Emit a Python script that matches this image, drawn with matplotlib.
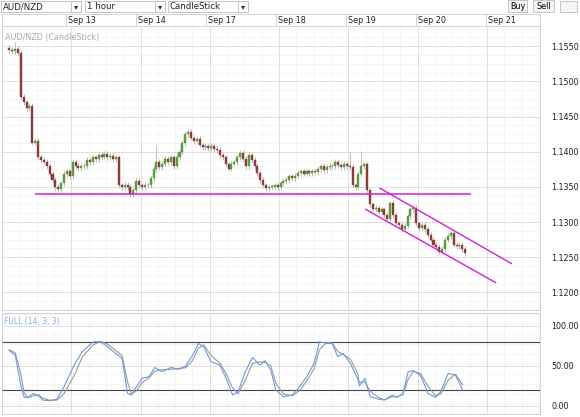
import matplotlib
matplotlib.use("Agg")
import matplotlib.pyplot as plt
from matplotlib.patches import Rectangle, FancyBboxPatch
import numpy as np

# ── Data ──────────────────────────────────────────────────────────────────────
closes = [
    1.1545, 1.1543, 1.1546, 1.1540, 1.1478, 1.1470, 1.1462, 1.1465, 1.1413, 1.1415,
    1.1392, 1.1388, 1.1386, 1.1380, 1.1368, 1.1360, 1.1350, 1.1347, 1.1355, 1.1368,
    1.1372, 1.1365, 1.1385, 1.1380, 1.1377, 1.1380, 1.1379, 1.1388, 1.1385, 1.1392,
    1.1390, 1.1395, 1.1393, 1.1397, 1.1392, 1.1394, 1.1390, 1.1392, 1.1352, 1.1350,
    1.1353, 1.1350, 1.1340, 1.1345, 1.1358, 1.1352, 1.1350, 1.1353, 1.1352, 1.1362,
    1.1375, 1.1385, 1.1378, 1.1383, 1.1390, 1.1385, 1.1392, 1.1380, 1.1392, 1.1400,
    1.1412, 1.1425, 1.1428, 1.1420, 1.1415, 1.1418, 1.1410, 1.1406, 1.1408, 1.1405,
    1.1408, 1.1404, 1.1402, 1.1395, 1.1392, 1.1382, 1.1376, 1.1383, 1.1385, 1.1392,
    1.1398, 1.1390, 1.1380, 1.1395, 1.1388, 1.1380, 1.1370, 1.1360, 1.1352, 1.1348,
    1.1350, 1.1350, 1.1352, 1.1350, 1.1355, 1.1358, 1.1360, 1.1365, 1.1362, 1.1366,
    1.1370, 1.1372, 1.1369, 1.1372, 1.1370, 1.1372, 1.1371, 1.1375, 1.1380, 1.1374,
    1.1378, 1.1380, 1.1379, 1.1385, 1.1381, 1.1378, 1.1382, 1.1380, 1.1378, 1.1352,
    1.1350, 1.1368, 1.1380, 1.1382, 1.1345, 1.1325, 1.1318, 1.1320, 1.1315, 1.1318,
    1.1310, 1.1305, 1.1327, 1.1310, 1.1298, 1.1296, 1.1290, 1.1295, 1.1308, 1.1318,
    1.1320, 1.1298, 1.1292, 1.1296, 1.1290, 1.1282, 1.1275, 1.1268, 1.1265, 1.1258,
    1.1262, 1.1275, 1.1280, 1.1284, 1.1268, 1.1266, 1.1268, 1.1262, 1.1256,
]
first_open = 1.1548
# a few long upper wicks (candle index -> high)
spike_highs = {2: 1.1556, 51: 1.1410, 118: 1.1400, 122: 1.1401, 132: 1.1330}

day_labels = ["Sep 13", "Sep 14", "Sep 17", "Sep 18", "Sep 19", "Sep 20", "Sep 21"]
day_starts = [21.5, 45.5, 69.5, 93.5, 117.5, 141.5, 165.5]

support_level = 1.1340
support_span = [9, 160]
channel_upper = ([128.5, 174], [1.1348, 1.1241])
channel_lower = ([123.5, 168.5], [1.1318, 1.1214])

osc_idx = [0, 2.1, 4.0, 5.2, 6.5, 8.4, 10.3, 11.5, 14.0, 16.5, 19.0, 22.8, 25.3, 29.1,
           31.6, 34.1, 36.6, 39.1, 41.0, 42.3, 44.1, 46.0, 48.5, 50.4, 52.9, 56.1, 58.6,
           61.1, 63.6, 65.5, 67.4, 69.9, 73.0, 74.9, 77.4, 79.3, 81.8, 84.3, 86.8, 88.7,
           90.6, 92.4, 95.0, 98.1, 100.6, 103.1, 105.6, 107.5, 110.0, 111.9, 113.8,
           115.7, 118.2, 120.7, 121.3, 123.2, 125.1, 128.2, 130.1, 132.6, 134.5, 136.4,
           138.2, 140.1, 142.6, 145.1, 147.7, 149.5, 152.1, 154.6, 157.1]
stoch_k = [68.8, 63.3, 25.8, 10.4, 10.4, 15.4, 12.1, 7.1, 6.3, 7.9, 23.8, 52.9, 67.5, 80.0,
           80.0, 73.8, 66.3, 59.2, 15.4, 13.3, 23.8, 34.2, 36.3, 47.9, 42.5, 47.9, 45.4,
           49.6, 63.3, 77.9, 73.8, 55.0, 50.8, 36.3, 13.3, 17.5, 42.5, 60.4, 50.8, 56.3,
           44.6, 19.6, 11.3, 13.3, 23.8, 36.3, 52.9, 80.0, 77.9, 77.9, 61.3, 65.4, 52.9,
           34.2, 24.6, 34.2, 11.3, 7.9, 7.1, 13.3, 10.4, 15.4, 42.5, 43.8, 37.1, 15.4,
           10.4, 17.5, 40.4, 38.3, 19.6]
stoch_d = [70.0, 66.0, 40.0, 16.0, 10.0, 12.5, 13.5, 9.5, 6.8, 7.0, 15.0, 40.0, 61.0, 76.0,
           80.5, 77.0, 70.0, 62.5, 30.0, 14.5, 18.5, 29.0, 35.0, 43.0, 45.0, 45.5, 46.5,
           47.5, 57.0, 72.0, 76.0, 63.0, 53.0, 42.0, 22.0, 15.0, 32.0, 53.0, 55.0, 54.0,
           50.0, 28.0, 14.5, 12.5, 19.0, 31.0, 46.0, 70.0, 79.0, 78.5, 68.0, 64.0, 58.0,
           41.0, 29.0, 30.0, 18.0, 9.5, 7.5, 11.0, 11.5, 13.5, 33.0, 43.0, 40.0, 24.0,
           12.5, 14.5, 32.0, 39.5, 26.0]

UP_COLOR = "#5b9b3c"
DOWN_COLOR = "#8a3b3b"
MAGENTA = "#d21fd2"
GRID_MAJ = "#e2e2e2"
GRID_MIN = "#f2f2f2"

W, H = 580, 417
fig = plt.figure(figsize=(W / 100, H / 100), dpi=100)
fig.patch.set_facecolor("white")


def frac(x0, y0, x1, y1):
    return [x0 / W, 1 - y1 / H, (x1 - x0) / W, (y1 - y0) / H]


# ── Toolbar ───────────────────────────────────────────────────────────────────
def dropdown(x0, x1, label):
    fig.patches.append(Rectangle((x0 / W, 1 - 12 / H), (x1 - x0) / W, 11 / H,
                                 transform=fig.transFigure, facecolor="white",
                                 edgecolor="#bbbbbb", lw=0.6))
    fig.patches.append(Rectangle(((x1 - 10) / W, 1 - 12 / H), 10 / W, 11 / H,
                                 transform=fig.transFigure, facecolor="white",
                                 edgecolor="#bbbbbb", lw=0.6))
    fig.text((x0 + 2) / W, 1 - 6.5 / H, label, fontsize=6.2, va="center", color="#222222")
    fig.text((x1 - 5) / W, 1 - 6.5 / H, "▾", fontsize=6, va="center", ha="center",
             color="#333333")


dropdown(1, 81, "AUD/NZD")
dropdown(85, 165, "1 hour")
dropdown(168, 248, "CandleStick")
for x0, x1, lab in [(509, 527, "Buy"), (534, 554, "Sell")]:
    fig.patches.append(FancyBboxPatch((x0 / W, 1 - 12 / H), (x1 - x0) / W, 11 / H,
                                      boxstyle="round,pad=0.001", transform=fig.transFigure,
                                      facecolor="#f5f5f5", edgecolor="#bbbbbb", lw=0.6))
    fig.text((x0 + x1) / 2 / W, 1 - 6.5 / H, lab, fontsize=5.8, va="center", ha="center")
fig.patches.append(Rectangle((560 / W, 1 - 12 / H), 17 / W, 11 / H, transform=fig.transFigure,
                             facecolor="#f5f5f5", edgecolor="#bbbbbb", lw=0.6))

XLIM = (-0.34, 183.9)

# ── Date header ───────────────────────────────────────────────────────────────
axh = fig.add_axes(frac(2, 14, 540, 26))
axh.set_xlim(*XLIM)
axh.set_ylim(0, 1)
axh.set_xticks([])
axh.set_yticks([])
for s in axh.spines.values():
    s.set_color("#cccccc")
    s.set_linewidth(0.6)
for d, lab in zip(day_starts, day_labels):
    axh.axvline(d, color="#cccccc", lw=0.6)
    axh.text(d + 0.6, 0.45, lab, fontsize=5.8, va="center", color="#222222")


def style_grid(ax):
    ax.set_xlim(*XLIM)
    minor_x = np.arange(-2.5, 184, 6)
    ax.set_xticks(day_starts)
    ax.set_xticks(minor_x, minor=True)
    ax.tick_params(axis="x", which="both", length=0, labelbottom=False)
    ax.grid(True, which="major", color="#d8d8d8", lw=0.6)
    ax.grid(True, which="minor", color=GRID_MIN, lw=0.5)
    ax.set_axisbelow(True)
    for s in ax.spines.values():
        s.set_color("#cccccc")
        s.set_linewidth(0.6)
    ax.yaxis.tick_right()
    ax.tick_params(axis="y", which="both", length=0, labelsize=5.8, pad=8,
                   labelcolor="#222222")


# ── Price panel ───────────────────────────────────────────────────────────────
ax = fig.add_axes(frac(2, 26, 540, 310))
style_grid(ax)
ax.set_ylim(1.11904, 1.15787)
ax.set_yticks(np.arange(1.1200, 1.1551, 0.005))
ax.set_yticks(np.arange(1.1175, 1.1576, 0.00125), minor=True)
ax.set_yticklabels([f"{v:.4f}" for v in np.arange(1.1200, 1.1551, 0.005)])

opens = [first_open] + closes[:-1]
for i, (o, c) in enumerate(zip(opens, closes)):
    hi = spike_highs.get(i, max(o, c) + 0.0004)
    lo = min(o, c) - 0.0004
    col = UP_COLOR if c >= o else DOWN_COLOR
    ax.vlines(i, lo, hi, color="#bbbbbb", lw=0.7, zorder=2)
    body = max(abs(c - o), 0.00006)
    ax.add_patch(Rectangle((i - 0.35, min(o, c)), 0.7, body, facecolor=col,
                           edgecolor=col, lw=0.3, zorder=3))

ax.hlines(support_level, *support_span, color=MAGENTA, lw=1.1, zorder=4)
ax.plot(*channel_upper, color=MAGENTA, lw=1.0, zorder=4)
ax.plot(*channel_lower, color=MAGENTA, lw=1.0, zorder=4)
ax.text(0.005, 0.975, "AUD/NZD (CandleStick)", transform=ax.transAxes, fontsize=5.8,
        color="#aaaaaa", va="top")

# ── Stochastic panel ──────────────────────────────────────────────────────────
ax2 = fig.add_axes(frac(2, 313, 540, 414))
style_grid(ax2)
ax2.set_ylim(-10.4, 116)
ax2.set_yticks([0, 50, 100])
ax2.set_yticks(np.arange(-10, 116, 12.5), minor=True)
ax2.set_yticklabels(["0.00", "50.00", "100.00"])
ax2.axhline(80, color="#444444", lw=0.8)
ax2.axhline(20, color="#444444", lw=0.8)
ax2.plot(osc_idx, stoch_d, color="#999999", lw=0.8)
ax2.plot(osc_idx, stoch_k, color="#6a9be0", lw=0.8)
ax2.text(0.003, 0.96, "FULL (14, 3, 3)", transform=ax2.transAxes, fontsize=5.5,
         color="#8ab0e8", va="top")

fig.savefig("out.png", dpi=100)
